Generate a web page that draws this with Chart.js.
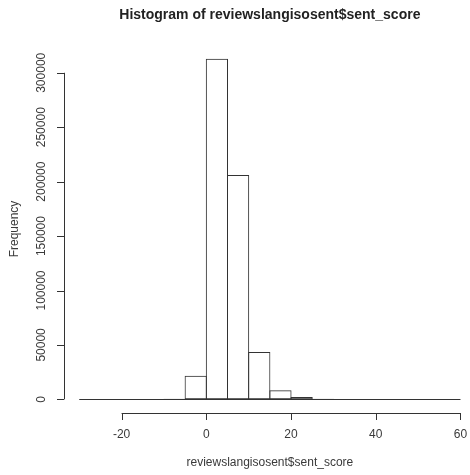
<!DOCTYPE html>
<html>
<head>
<meta charset="utf-8">
<script src="https://cdn.jsdelivr.net/npm/chart.js@4"></script>
<style>
  html, body { margin: 0; padding: 0; background: #fff; }
  #wrap { width: 470px; height: 475px; }
</style>
</head>
<body>
<div id="wrap"><canvas id="hist" width="470" height="475"></canvas></div>
<script>
// histogram bins (break at left edge, width 5) and counts
const binStarts = [-30, -25, -20, -15, -10, -5, 0, 5, 10, 15, 20, 25, 30, 35, 40, 45, 50, 55];
const counts    = [0, 0, 0, 0, 500, 21800, 313000, 206000, 43500, 8300, 2100, 600, 0, 0, 0, 0, 0, 0];
const binWidth = 5;

const xTicks = [-20, 0, 20, 40, 60];
const yTicks = [0, 50000, 100000, 150000, 200000, 250000, 300000];

const titleText = "Histogram of reviewslangisosent$sent_score";
const xLabel = "reviewslangisosent$sent_score";
const yLabel = "Frequency";

// R-style ranges: data range stretched by 4% on each side
const xLo = binStarts[0], xHi = binStarts[binStarts.length - 1] + binWidth;
const xPad = (xHi - xLo) * 0.04;
const yMaxData = Math.max(...counts);
const yPad = yMaxData * 0.04;

const ink = "#333";

// draws the R look: baseline, detached axes, tick labels, titles
const rAxes = {
  id: "rAxes",
  afterDraw(chart) {
    const ctx = chart.ctx;
    const x = chart.scales.x, y = chart.scales.y;
    const area = chart.chartArea;
    const yAxisX = area.left, xAxisY = area.bottom;
    const tick = 7;
    const crisp = v => Math.round(v) + 0.5;
    ctx.save();
    ctx.strokeStyle = ink;
    ctx.lineWidth = 1;

    // histogram baseline across all bins
    ctx.beginPath();
    ctx.moveTo(x.getPixelForValue(xLo), crisp(y.getPixelForValue(0)));
    ctx.lineTo(x.getPixelForValue(xHi), crisp(y.getPixelForValue(0)));
    ctx.stroke();

    // x axis
    ctx.beginPath();
    ctx.moveTo(x.getPixelForValue(xTicks[0]), crisp(xAxisY));
    ctx.lineTo(x.getPixelForValue(xTicks[xTicks.length - 1]), crisp(xAxisY));
    xTicks.forEach(v => {
      const px = crisp(x.getPixelForValue(v));
      ctx.moveTo(px, xAxisY);
      ctx.lineTo(px, xAxisY + tick);
    });
    ctx.stroke();

    // y axis
    ctx.beginPath();
    ctx.moveTo(crisp(yAxisX), y.getPixelForValue(yTicks[0]));
    ctx.lineTo(crisp(yAxisX), y.getPixelForValue(yTicks[yTicks.length - 1]));
    yTicks.forEach(v => {
      const py = crisp(y.getPixelForValue(v));
      ctx.moveTo(yAxisX, py);
      ctx.lineTo(yAxisX - tick, py);
    });
    ctx.stroke();

    ctx.fillStyle = "#3a3a3a";
    ctx.font = "12px 'Liberation Sans', Arial, sans-serif";
    ctx.textAlign = "center";
    ctx.textBaseline = "middle";
    xTicks.forEach(v => {
      ctx.fillText(String(v), x.getPixelForValue(v), xAxisY + 22);
    });
    yTicks.forEach(v => {
      ctx.save();
      ctx.translate(yAxisX - 22, y.getPixelForValue(v));
      ctx.rotate(-Math.PI / 2);
      ctx.fillText(String(v), 0, 0);
      ctx.restore();
    });

    const midX = x.getPixelForValue((xLo + xHi) / 2);
    const midY = (area.top + area.bottom) / 2;
    ctx.fillText(xLabel, midX, xAxisY + 50);
    ctx.save();
    ctx.translate(15, midY);
    ctx.rotate(-Math.PI / 2);
    ctx.fillText(yLabel, 0, 0);
    ctx.restore();

    ctx.fillStyle = "#222";
    ctx.font = "bold 14px 'Liberation Sans', Arial, sans-serif";
    ctx.fillText(titleText, midX, 15);
    ctx.restore();
  }
};

new Chart(document.getElementById("hist").getContext("2d"), {
  type: "bar",
  data: {
    datasets: [{
      data: binStarts.map((b, i) => ({ x: b + binWidth / 2, y: counts[i] })),
      backgroundColor: "rgba(0,0,0,0)",
      borderColor: ink,
      borderWidth: 1,
      borderSkipped: false,
      barPercentage: 1.05,
      categoryPercentage: 1
    }]
  },
  options: {
    responsive: false,
    animation: false,
    layout: { padding: { left: 64, right: 0, top: 45, bottom: 62 } },
    plugins: { legend: { display: false }, title: { display: false }, tooltip: { enabled: false } },
    scales: {
      x: { type: "linear", display: false, min: xLo - xPad, max: 62.25, offset: false },
      y: { display: false, min: -yPad, max: yMaxData + yPad }
    }
  },
  plugins: [rAxes]
});
</script>
</body>
</html>
